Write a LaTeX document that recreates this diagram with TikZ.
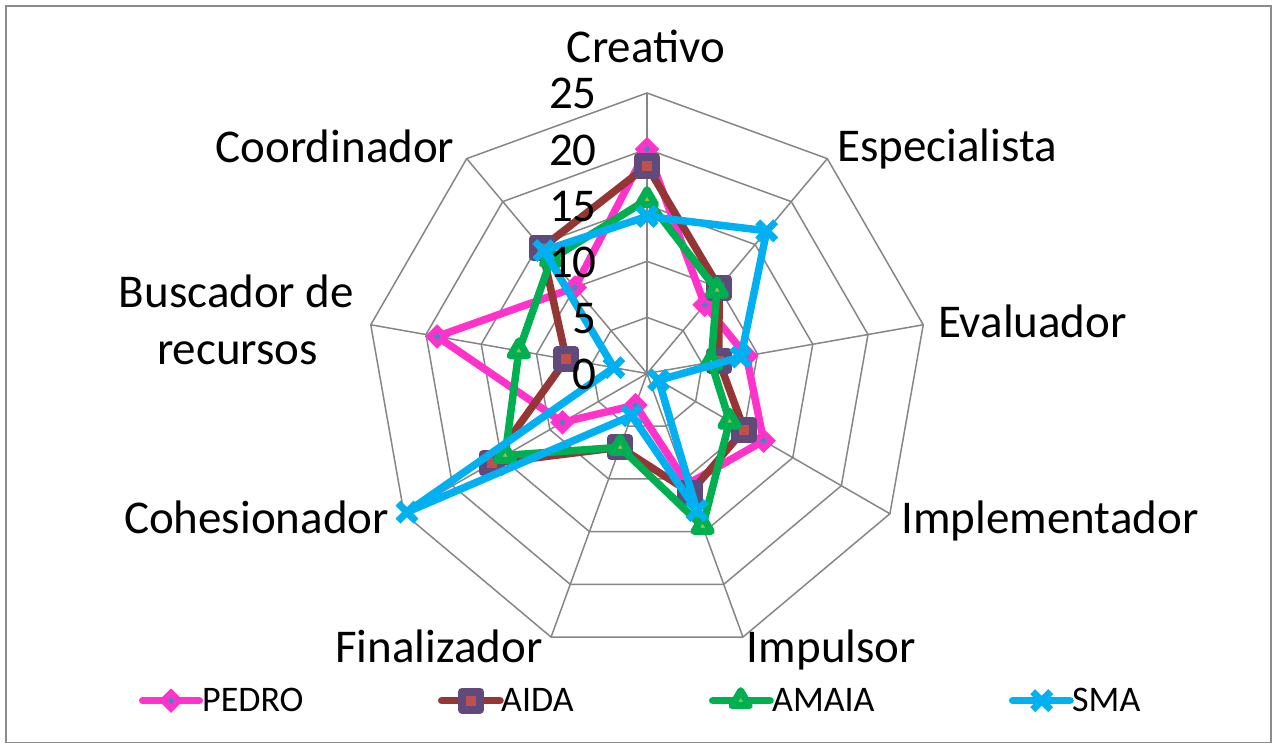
\documentclass[tikz,border=0pt]{standalone}
\usepackage{fontspec}
\setmainfont{Carlito}
\definecolor{gridgray}{HTML}{868686}
\definecolor{framegray}{HTML}{8C8C8C}
\definecolor{pedroc}{HTML}{FF33CC}
\definecolor{pedrofill}{HTML}{4F81BD}
\definecolor{aidac}{HTML}{943634}
\definecolor{aidamark}{HTML}{604A7B}
\definecolor{aidafill}{HTML}{C0504D}
\definecolor{amaiac}{HTML}{00B050}
\definecolor{amaiafill}{HTML}{9BBB59}
\definecolor{smac}{HTML}{00B0F0}
\tikzset{
  gridline/.style={gridgray, line width=1.5},
  axislabel/.style={anchor=base, inner sep=0pt, font=\fontsize{47}{57}\selectfont},
  ticklabel/.style={anchor=base east, inner sep=0pt, font=\fontsize{47}{57}\selectfont},
  legendlabel/.style={anchor=base west, inner sep=0pt, font=\fontsize{36}{43}\selectfont},
  serieslinebase/.style={line width=7.5, line join=round},
  pedroline/.style={serieslinebase, pedroc},
  aidaline/.style={serieslinebase, aidac},
  amaialine/.style={serieslinebase, amaiac},
  smaline/.style={serieslinebase, smac},
  diamondmark/.pic={\draw[pedroc, fill=pedrofill, line width=6, line join=miter] (0,8)--(8,0)--(0,-8)--(-8,0)--cycle;},
  squaremark/.pic={\draw[aidamark, fill=aidafill, line width=8, line join=round] (-9,-9) rectangle (9,9);},
  trianglemark/.pic={\draw[amaiac, fill=amaiafill, line width=7, line join=round] (90:10)--(210:10)--(330:10)--cycle;},
  crossmark/.pic={\draw[smac, line width=7] (-9,-9)--(9,9) (-9,9)--(9,-9);}
}
\begin{document}
\begin{tikzpicture}[x=1pt,y=1pt]
\useasboundingbox (0,0) rectangle (1275,744);
\fill[white] (0,0) rectangle (1275,744);
\draw[framegray, line width=1.5] (6,1.5) rectangle (1271,738);
\coordinate (c) at (647,370.5);
% grid rings
\foreach \v in {5,10,15,20,25}{
  \draw[gridline, line join=miter, shift={(647,370.5)}] (90:{\v*11.22})
    \foreach \a in {50,10,-30,-70,-110,-150,170,130}{ -- (\a:{\v*11.22}) } -- cycle;
}
% spokes
\foreach \a [count=\i] in {90,50,10,-30,-70,-110,-150,170,130}{
  \path (c) ++(\a:280.5) coordinate (s\i);
  \draw[gridline] (c) -- (s\i);
}
% axis labels
\node[axislabel] (lcre) at (646,681) {Creativo};
\node[axislabel] (lesp) at (947,582) {Especialista};
\node[axislabel] (leva) at (1032.5,406) {Evaluador};
\node[axislabel] (limp) at (1050,210) {Implementador};
\node[axislabel] (limu) at (831.5,81) {Impulsor};
\node[axislabel] (lfin) at (439,81) {Finalizador};
\node[axislabel] (lcoh) at (256.5,210) {Cohesionador};
\node[axislabel] (lbus) at (236.5,436) {Buscador de};
\node[axislabel] (lrec) at (237.5,379) {recursos};
\node[axislabel] (lcoo) at (335,581) {Coordinador};
% data points
\foreach \a/\v [count=\i] in {90/20,50/8,10/9,-30/12,-70/10.5,-110/3,-150/8.7,170/19,130/10}{
  \path (c) ++(\a:{\v*11.22}) coordinate (P\i);
}
\foreach \a/\v [count=\i] in {90/18.5,50/10,10/6.5,-30/10,-70/11.3,-110/7,-150/16,170/7.3,130/14.6}{
  \path (c) ++(\a:{\v*11.22}) coordinate (A\i);
}
\foreach \a/\v [count=\i] in {90/15.5,50/9.7,10/5.8,-30/8.5,-70/14.5,-110/7,-150/14.6,170/11.6,130/13.3}{
  \path (c) ++(\a:{\v*11.22}) coordinate (M\i);
}
\foreach \a/\v [count=\i] in {90/14,50/16.6,10/8.5,-30/1.2,-70/13,-110/4,-150/24.7,170/3,130/14.3}{
  \path (c) ++(\a:{\v*11.22}) coordinate (S\i);
}
% PEDRO
\draw[pedroline] (P1)--(P2)--(P3)--(P4)--(P5)--(P6)--(P7)--(P8)--(P9)--cycle;
\foreach \i in {1,...,9}{\pic at (P\i) {diamondmark};}
% AIDA
\draw[aidaline] (A1)--(A2)--(A3)--(A4)--(A5)--(A6)--(A7)--(A8)--(A9)--cycle;
\foreach \i in {1,...,9}{\pic at (A\i) {squaremark};}
% AMAIA
\draw[amaialine] (M1)--(M2)--(M3)--(M4)--(M5)--(M6)--(M7)--(M8)--(M9)--cycle;
\foreach \i in {1,...,9}{\pic at (M\i) {trianglemark};}
% SMA
\draw[smaline] (S1)--(S2)--(S3)--(S4)--(S5)--(S6)--(S7)--(S8)--(S9)--cycle;
\foreach \i in {1,...,9}{\pic at (S\i) {crossmark};}
% tick labels (on top of series)
\foreach \v in {0,5,10,15,20,25}{
  \node[ticklabel] (t\v) at (597,{354.5+11.22*\v}) {\v};
}
% legend
\coordinate (lg1a) at (142.7,43.3); \coordinate (lg1b) at (199.3,43.3); \coordinate (lg1m) at (171,43.3);
\coordinate (lg2a) at (441.7,43.3); \coordinate (lg2b) at (500,43.3); \coordinate (lg2m) at (471,43.3);
\coordinate (lg3a) at (712.7,43.3); \coordinate (lg3b) at (770,43.3); \coordinate (lg3m) at (740.7,43.3);
\coordinate (lg4a) at (1012.7,43.3); \coordinate (lg4b) at (1070,43.3); \coordinate (lg4m) at (1041.7,43.3);
\draw[pedroline, line cap=round] (lg1a) -- (lg1b); \pic at (lg1m) {diamondmark};
\draw[aidaline, line cap=round] (lg2a) -- (lg2b); \pic at (lg2m) {squaremark};
\draw[amaialine, line cap=round] (lg3a) -- (lg3b); \pic at (lg3m) {trianglemark};
\draw[smaline, line cap=round] (lg4a) -- (lg4b); \pic at (lg4m) {crossmark};
\node[legendlabel] (n1) at (202,32.4) {PEDRO};
\node[legendlabel] (n2) at (501,32.4) {AIDA};
\node[legendlabel] (n3) at (772,32.4) {AMAIA};
\node[legendlabel] (n4) at (1072,32.4) {SMA};
\end{tikzpicture}
\end{document}
